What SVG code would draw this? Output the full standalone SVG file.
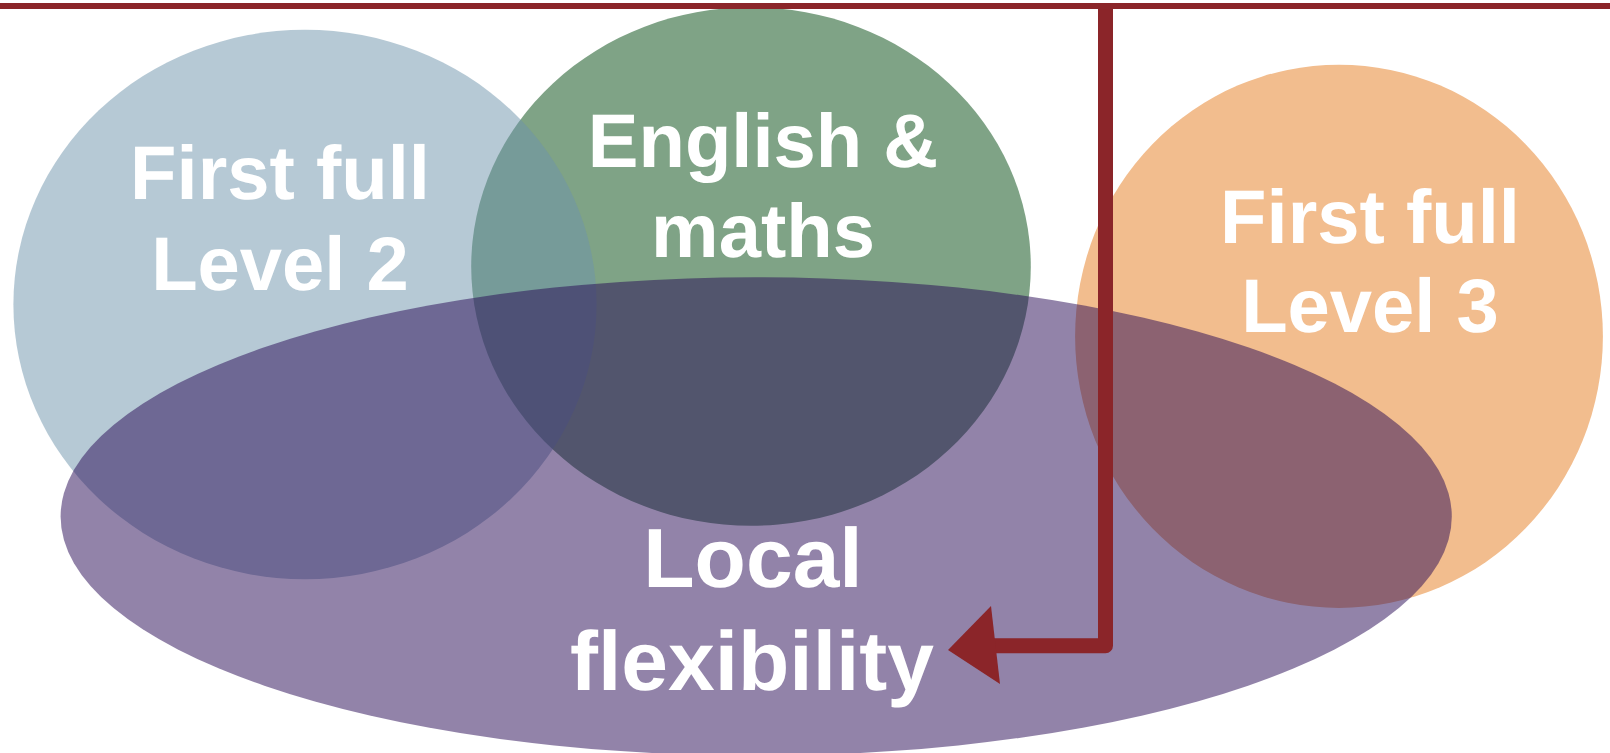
<svg xmlns="http://www.w3.org/2000/svg" width="1610" height="753" viewBox="0 0 1610 753">
<style>
.lbl{font-family:"Liberation Sans",Arial,sans-serif;font-weight:bold;fill:#ffffff;text-anchor:middle;text-rendering:geometricPrecision}
.s76{font-size:76px}
.s84{font-size:84px}
.conn{fill:none;stroke:#8B2529;stroke-linejoin:round}
</style>
<rect width="1610" height="753" fill="#ffffff"/>
<g id="english-maths">
<ellipse cx="751" cy="266.5" rx="279.8" ry="259.3" fill="#7FA386"/>
</g>
<g id="level2">
<ellipse cx="305" cy="304.5" rx="291.6" ry="274.7" fill="#6D93AB" fill-opacity="0.5"/>
</g>
<g id="level3">
<ellipse cx="1339" cy="336.3" rx="263.9" ry="271.6" fill="#F2BD8E"/>
</g>
<g id="local-flexibility">
<ellipse cx="756.2" cy="516.5" rx="695.6" ry="239.2" fill="#250753" fill-opacity="0.5"/>
</g>
<g id="labels">
<text class="lbl s76" x="280" y="199">First full</text>
<text class="lbl s76" x="280" y="290">Level 2</text>
<text class="lbl s76" x="763" y="167">English &amp;</text>
<text class="lbl s76" x="763" y="257">maths</text>
<text class="lbl s76" x="1370" y="243">First full</text>
<text class="lbl s76" x="1370" y="332">Level 3</text>
<text class="lbl s84" x="753" y="587">Local</text>
<text class="lbl s84" x="752" y="690">flexibility</text>
</g>
<g id="connectors">
<line x1="0" y1="6" x2="1610" y2="6" stroke="#8B2529" stroke-width="6"/>
<path class="conn" d="M1105.5 6 V645.8 H990" stroke-width="15"/>
<polygon points="948,650 991,606 1000,684" fill="#8B2529"/>
</g>
</svg>
